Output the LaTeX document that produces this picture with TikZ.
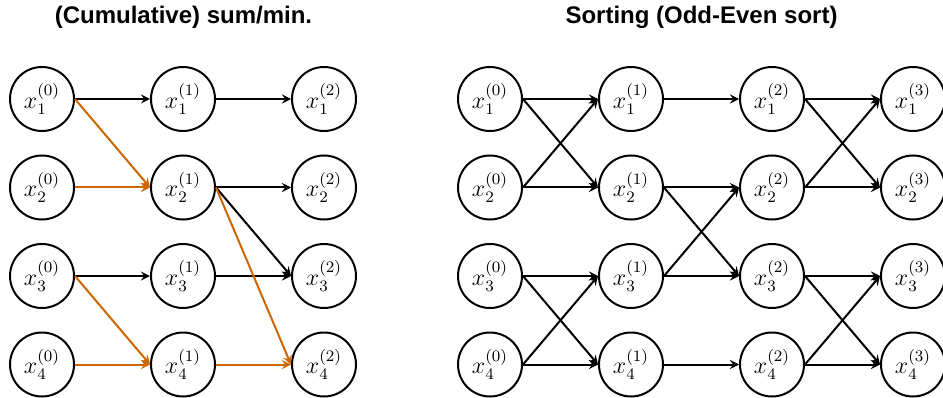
\documentclass[tikz,border=0pt]{standalone}
\usepackage{amsmath}
\usepackage{fontspec}
\setsansfont{Liberation Sans}
\usepackage{tikz}
\usetikzlibrary{positioning}
\definecolor{sumorange}{RGB}{204,102,0}

\begin{document}
\begin{tikzpicture}[x=0.5pt,y=0.5pt,
		node distance=44.25pt and 70.5pt, on grid,
		xnode/.style={draw=black,circle,minimum size=32pt,inner sep=0pt,line width=1pt,font=\large},
		title/.style={font=\fontsize{12}{14}\selectfont\sffamily\bfseries},
		arr/.style={-stealth,line width=1pt},
		sumarr/.style={arr,draw=sumorange,fill=sumorange}]
		\useasboundingbox (0,0) rectangle (943,397);
		\node[title] (sumtitle) at (183.5,380) {(Cumulative) sum/min.};
		\node[title] (sorttitle) at (701.5,380) {Sorting (Odd-Even sort)};
		
		% cumulative sum / min
		\node[xnode] (s01) at (42,298) {$x_1^{(0)}$};
		\node[xnode,below=of s01] (s02) {$x_2^{(0)}$};
		\node[xnode,below=of s02] (s03) {$x_3^{(0)}$};
		\node[xnode,below=of s03] (s04) {$x_4^{(0)}$};
		\node[xnode,right=of s01] (s11) {$x_1^{(1)}$};
		\node[xnode,right=of s02] (s12) {$x_2^{(1)}$};
		\node[xnode,right=of s03] (s13) {$x_3^{(1)}$};
		\node[xnode,right=of s04] (s14) {$x_4^{(1)}$};
		\node[xnode,right=of s11] (s21) {$x_1^{(2)}$};
		\node[xnode,right=of s12] (s22) {$x_2^{(2)}$};
		\node[xnode,right=of s13] (s23) {$x_3^{(2)}$};
		\node[xnode,right=of s14] (s24) {$x_4^{(2)}$};
		
		\draw[arr] (s01.east)--(s11.west);
		\draw[arr] (s03.east)--(s13.west);
		\draw[arr] (s11.east)--(s21.west);
		\draw[arr] (s12.east)--(s22.west);
		\draw[arr] (s12.east)--(s23.west);
		\draw[arr] (s13.east)--(s23.west);
		\draw[sumarr] (s01.east)--(s12.west);
		\draw[sumarr] (s02.east)--(s12.west);
		\draw[sumarr] (s03.east)--(s14.west);
		\draw[sumarr] (s04.east)--(s14.west);
		\draw[sumarr] (s12.east)--(s24.west);
		\draw[sumarr] (s14.east)--(s24.west);
		
		% odd-even sort
		\node[xnode] (o01) at (490,298) {$x_1^{(0)}$};
		\node[xnode,below=of o01] (o02) {$x_2^{(0)}$};
		\node[xnode,below=of o02] (o03) {$x_3^{(0)}$};
		\node[xnode,below=of o03] (o04) {$x_4^{(0)}$};
		\node[xnode,right=of o01] (o11) {$x_1^{(1)}$};
		\node[xnode,right=of o02] (o12) {$x_2^{(1)}$};
		\node[xnode,right=of o03] (o13) {$x_3^{(1)}$};
		\node[xnode,right=of o04] (o14) {$x_4^{(1)}$};
		\node[xnode,right=of o11] (o21) {$x_1^{(2)}$};
		\node[xnode,right=of o12] (o22) {$x_2^{(2)}$};
		\node[xnode,right=of o13] (o23) {$x_3^{(2)}$};
		\node[xnode,right=of o14] (o24) {$x_4^{(2)}$};
		\node[xnode,right=of o21] (o31) {$x_1^{(3)}$};
		\node[xnode,right=of o22] (o32) {$x_2^{(3)}$};
		\node[xnode,right=of o23] (o33) {$x_3^{(3)}$};
		\node[xnode,right=of o24] (o34) {$x_4^{(3)}$};
		
		\draw[arr] (o01.east)--(o11.west);
		\draw[arr] (o01.east)--(o12.west);
		\draw[arr] (o02.east)--(o11.west);
		\draw[arr] (o02.east)--(o12.west);
		\draw[arr] (o03.east)--(o13.west);
		\draw[arr] (o03.east)--(o14.west);
		\draw[arr] (o04.east)--(o13.west);
		\draw[arr] (o04.east)--(o14.west);
		
		\draw[arr] (o11.east)--(o21.west);
		\draw[arr] (o12.east)--(o22.west);
		\draw[arr] (o12.east)--(o23.west);
		\draw[arr] (o13.east)--(o22.west);
		\draw[arr] (o13.east)--(o23.west);
		\draw[arr] (o14.east)--(o24.west);
		
		\draw[arr] (o21.east)--(o31.west);
		\draw[arr] (o21.east)--(o32.west);
		\draw[arr] (o22.east)--(o31.west);
		\draw[arr] (o22.east)--(o32.west);
		\draw[arr] (o23.east)--(o33.west);
		\draw[arr] (o23.east)--(o34.west);
		\draw[arr] (o24.east)--(o33.west);
		\draw[arr] (o24.east)--(o34.west);
	\end{tikzpicture}
\end{document}
